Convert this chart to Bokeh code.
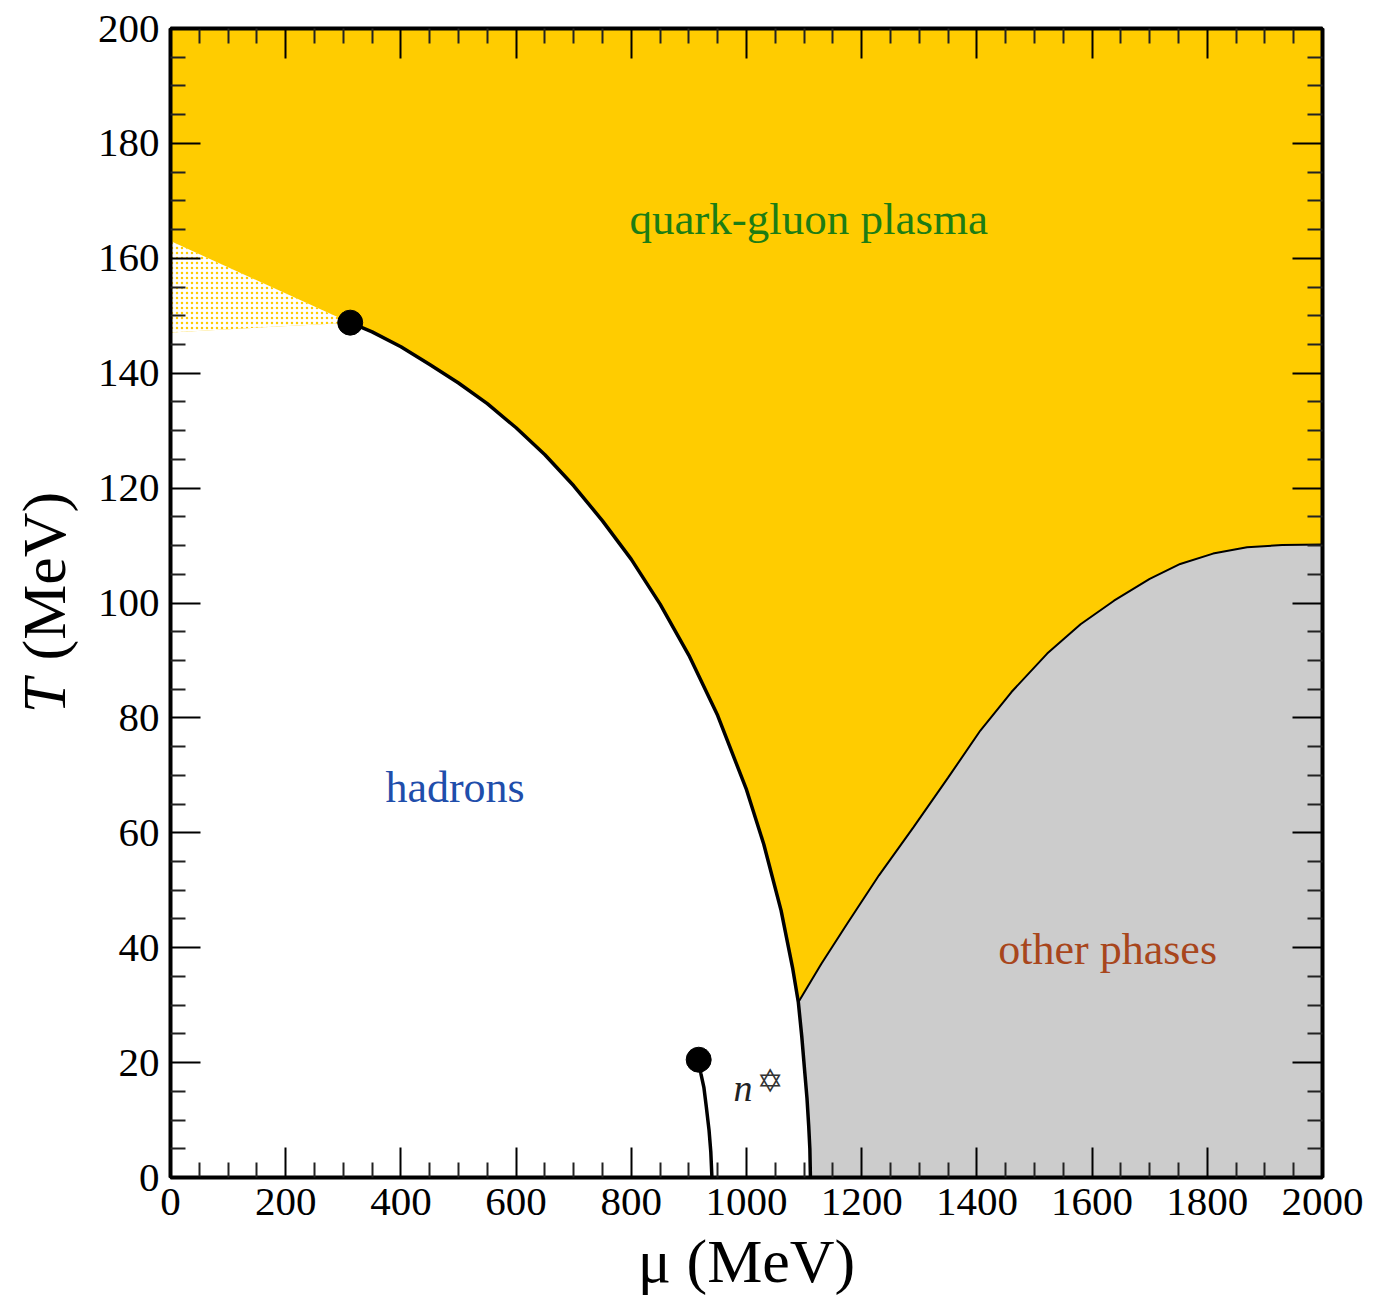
import math
from bokeh.plotting import figure
from bokeh.layouts import row
from bokeh.models import (ColumnDataSource, FixedTicker, LinearAxis, Label,
                          CustomJSTickFormatter, Range1d)
from bokeh.core.properties import value
from bokeh.embed import file_html
from bokeh.resources import INLINE

# ---------------- data ----------------
MU_RANGE = [0, 2000]
T_RANGE = [0, 200]
mu_major = list(range(0, 2001, 200))
mu_minor = [m for m in range(0, 2001, 50) if m % 200]
T_major = list(range(0, 201, 20))
T_minor = [t for t in range(0, 201, 5) if t % 20]

# transition line (critical point -> T=0)
mu_trans = [312, 350, 400, 450, 500, 550, 600, 650, 700, 750, 800, 850, 900,
            950, 1000, 1030, 1060, 1080, 1090, 1096, 1101, 1105, 1108, 1110,
            1111]
T_trans = [148.8, 147.2, 144.6, 141.5, 138.3, 134.7, 130.5, 125.8, 120.4,
           114.3, 107.6, 99.8, 90.9, 80.4, 67.5, 58.0, 46.5, 36.5, 30.5,
           24.5, 18.5, 13.8, 9.0, 5.0, 0.0]

# boundary of "other phases"
mu_other = [1090, 1130, 1175, 1230, 1290, 1350, 1406, 1460, 1522, 1580,
            1638, 1700, 1753, 1810, 1869, 1930, 2000]
T_other = [30.5, 37.2, 44.2, 52.6, 61.0, 69.6, 77.8, 84.5, 91.2, 96.3,
           100.4, 104.2, 106.8, 108.6, 109.7, 110.1, 110.2]

# nuclear liquid-gas line
mu_nuc = [917, 921, 926, 930, 935, 938, 940]
T_nuc = [20.5, 18.0, 15.7, 12.5, 8.2, 4.5, 0.0]

# crossover band (dotted)
mu_cross = [0, 312, 0]
T_cross = [163.0, 148.8, 147.1]

# critical end points
mu_cp = [312, 917]
T_cp = [148.8, 20.5]

# region labels
reg_text = ["quark-gluon plasma", "hadrons", "other phases"]
reg_mu = [1108, 494, 1627]
reg_T = [166.9, 67.9, 39.6]
reg_size = ["45px", "44px", "44px"]
reg_color = ["#1d7d14", "#1f4eab", "#a8461c"]

FONT = "Liberation Serif"
FRAME_W, FRAME_H = 1152, 1149
TOP = 28
TITLE_W = 84

# ---------------- y title panel ----------------
t = figure(width=TITLE_W, frame_height=FRAME_H, x_range=Range1d(0, TITLE_W),
           y_range=Range1d(T_RANGE[0], T_RANGE[1]),
           output_backend="svg", toolbar_location=None,
           x_axis_location=None, y_axis_location=None,
           min_border_left=0, min_border_right=0, min_border_top=TOP,
           min_border_bottom=90)
t.outline_line_color = None
t.xgrid.visible = False
t.ygrid.visible = False
t.background_fill_color = "white"
t.border_fill_color = "white"
t.text(x=[43], y=[80.8], text=["T"], text_font=value(FONT),
       text_font_style="italic", text_font_size="62px", angle=math.pi / 2,
       text_align="left", text_baseline="middle", text_color="black")
t.text(x=[43], y=[90.0], text=["(MeV)"], text_font=value(FONT),
       text_font_size="62px", angle=math.pi / 2,
       text_align="left", text_baseline="middle", text_color="black")

# ---------------- main figure ----------------
p = figure(frame_width=FRAME_W, frame_height=FRAME_H,
           x_range=Range1d(MU_RANGE[0], MU_RANGE[1]),
           y_range=Range1d(T_RANGE[0], T_RANGE[1]),
           output_backend="svg", toolbar_location=None,
           x_axis_location=None, y_axis_location=None,
           min_border_left=170 - TITLE_W, min_border_right=45,
           min_border_top=TOP, min_border_bottom=90)
p.background_fill_color = "#FFCC00"
p.border_fill_color = "white"
p.outline_line_color = "black"
p.outline_line_width = 3
p.xgrid.visible = False
p.ygrid.visible = False

# hadron (white) region
had_mu = [0, 0, mu_cross[1]] + mu_trans
had_T = [0, T_cross[2], T_cross[1]] + T_trans
p.patch(had_mu, had_T, fill_color="white", line_color=None)

# crossover band: dotted yellow on white
p.patch(mu_cross, T_cross, fill_color="white", line_color=None,
        hatch_pattern="dot", hatch_color="#FFCC00", hatch_scale=5,
        hatch_weight=2.2)

# other phases (grey) region
k = mu_trans.index(mu_other[0])
grey_mu = mu_other + [MU_RANGE[1]] + mu_trans[k:][::-1]
grey_T = T_other + [T_RANGE[0]] + T_trans[k:][::-1]
p.patch(grey_mu, grey_T, fill_color="#CCCCCC", line_color=None)

# lines
p.line(mu_other, T_other, line_color="black", line_width=2)
p.line(mu_trans, T_trans, line_color="black", line_width=3.5)
p.line(mu_nuc, T_nuc, line_color="black", line_width=3.5)
p.scatter(mu_cp, T_cp, size=25, fill_color="black", line_color="black")

# region labels
src = ColumnDataSource(dict(x=reg_mu, y=reg_T, t=reg_text, c=reg_color,
                            s=reg_size))
p.text(x="x", y="y", text="t", text_color="c", source=src,
       text_font=value(FONT), text_font_size="s",
       text_align="center", text_baseline="middle")

# n* label
p.add_layout(Label(x=994, y=15.5, text="n", text_font=FONT,
                   text_font_style="italic", text_font_size="38px",
                   text_align="center", text_baseline="middle",
                   text_color="#222222"))
p.add_layout(Label(x=1041, y=16.8, text="\u2721", text_font="DejaVu Sans",
                   text_font_size="32px", text_align="center",
                   text_baseline="middle", text_color="#333333"))

# ---------------- axes ----------------
def style_axis(ax, ticks, minors, labels=True):
    ax.ticker = FixedTicker(ticks=ticks, minor_ticks=minors)
    ax.axis_line_width = 4
    ax.axis_line_color = "black"
    ax.major_tick_in = 30
    ax.major_tick_out = 0
    ax.minor_tick_in = 15
    ax.minor_tick_out = 0
    ax.major_tick_line_width = 2
    ax.minor_tick_line_width = 2
    ax.major_tick_line_color = "black"
    ax.minor_tick_line_color = "#222222"
    if labels:
        ax.major_label_text_font = FONT
        ax.major_label_text_font_size = "41px"
        ax.major_label_text_color = "black"
        ax.major_label_standoff = 11
    else:
        ax.formatter = CustomJSTickFormatter(code="return ''")
        ax.major_label_standoff = 0
        ax.major_label_text_font_size = "1px"

xb = LinearAxis()
style_axis(xb, mu_major, mu_minor)
xb.axis_label = "\u03bc (MeV)"
xb.axis_label_text_font = FONT
xb.axis_label_text_font_style = "normal"
xb.axis_label_text_font_size = "62px"
xb.axis_label_text_color = "black"
xb.axis_label_standoff = 9
p.add_layout(xb, "below")

yl = LinearAxis()
style_axis(yl, T_major, T_minor)
p.add_layout(yl, "left")

xt = LinearAxis()
style_axis(xt, mu_major, mu_minor, labels=False)
p.add_layout(xt, "above")

yr = LinearAxis()
style_axis(yr, T_major, T_minor, labels=False)
p.add_layout(yr, "right")

layout = row(t, p, spacing=0)
open("out.html", "w").write(file_html(layout, INLINE))
